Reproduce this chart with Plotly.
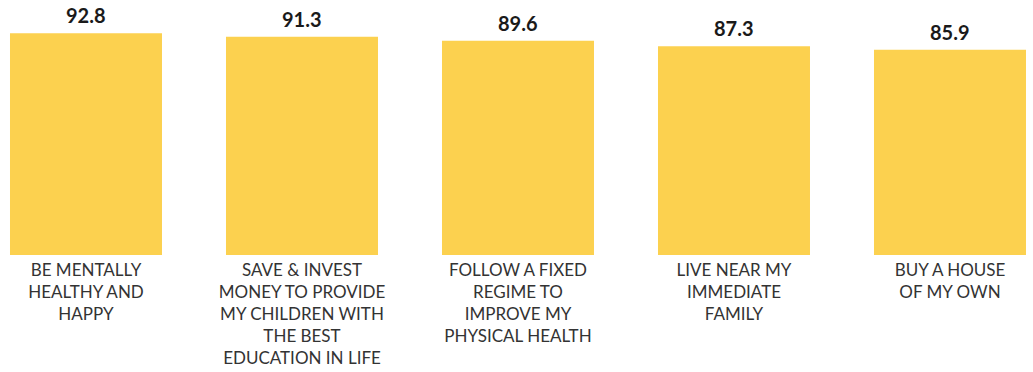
import plotly.graph_objects as go

categories = [
    "BE MENTALLY<br>HEALTHY AND<br>HAPPY",
    "SAVE & INVEST<br>MONEY TO PROVIDE<br>MY CHILDREN WITH<br>THE BEST<br>EDUCATION IN LIFE",
    "FOLLOW A FIXED<br>REGIME TO<br>IMPROVE MY<br>PHYSICAL HEALTH",
    "LIVE NEAR MY<br>IMMEDIATE<br>FAMILY",
    "BUY A HOUSE<br>OF MY OWN",
]
values = [92.8, 91.3, 89.6, 87.3, 85.9]

bar_color = "#FCD14F"

fig = go.Figure(
    go.Bar(
        x=categories,
        y=values,
        marker=dict(color=bar_color, line=dict(width=0)),
        hoverinfo="skip",
    )
)

for c, v in zip(categories, values):
    fig.add_annotation(
        x=c, y=v, text=f"<b>{v:.1f}</b>", showarrow=False,
        yanchor="bottom", yshift=4,
        font=dict(family="Lato", size=20, color="#1a1a1a"),
    )

fig.update_layout(
    width=1033, height=372,
    margin=dict(l=0, r=0, t=0, b=117),
    paper_bgcolor="white", plot_bgcolor="white",
    bargap=0.2963,
    showlegend=False,
    font=dict(family="Lato", size=17, color="#333333"),
)
fig.update_xaxes(
    range=[-0.3981, 4.3843],
    showgrid=False, showline=False, zeroline=False, ticks="",
    tickfont=dict(family="Lato", size=17, color="#333333"),
    ticklabelstandoff=3,
    fixedrange=True,
)
fig.update_yaxes(
    range=[0, 106.7], visible=False, showgrid=False, zeroline=False, fixedrange=True,
)

fig.write_html("out.html", config={"displayModeBar": False})
